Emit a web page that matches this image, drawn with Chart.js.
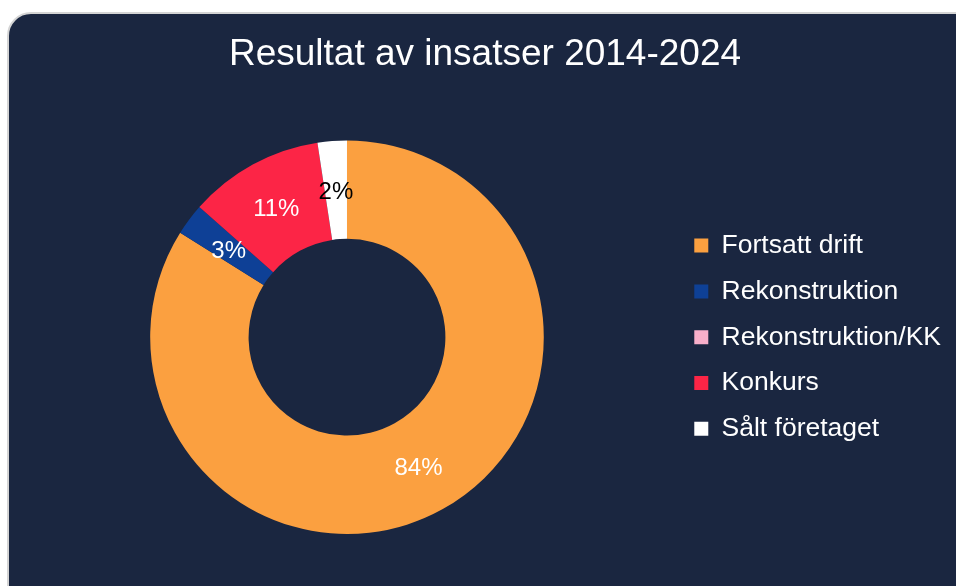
<!DOCTYPE html>
<html>
<head>
<meta charset="utf-8">
<script src="https://cdn.jsdelivr.net/npm/chart.js@4"></script>
<style>
  html, body { margin: 0; padding: 0; background: #ffffff; width: 956px; height: 586px; overflow: hidden; }
  #frame {
    position: absolute; left: 7px; top: 12px; width: 990px; height: 640px;
    background: #1a2640; border: 2px solid #d4d4d4; border-radius: 24px; box-sizing: border-box;
  }
  #wrap { position: absolute; left: 0; top: 0; width: 956px; height: 586px; }
</style>
</head>
<body>
<div id="frame"></div>
<div id="wrap"><canvas id="donut" width="956" height="586"></canvas></div>
<script>
const categories = ["Fortsatt drift", "Rekonstruktion", "Rekonstruktion/KK", "Konkurs", "Sålt företaget"];
const shares = [83.9, 2.6, 0, 11.1, 2.4];
const sliceColors = ["#fba040", "#0e4096", "#f8afca", "#fc2546", "#ffffff"];
const labelColors = ["#ffffff", "#ffffff", "#ffffff", "#ffffff", "#000000"];
const titleText = "Resultat av insatser 2014-2024";

const fontFamily = "'Liberation Sans', Arial, sans-serif";

// draws the percentage in the middle of each slice
const sliceLabels = {
  id: "sliceLabels",
  afterDatasetsDraw(chart) {
    const { ctx } = chart;
    const meta = chart.getDatasetMeta(0);
    ctx.save();
    ctx.font = "24px " + fontFamily;
    ctx.textAlign = "center";
    ctx.textBaseline = "middle";
    meta.data.forEach((arc, i) => {
      const value = shares[i];
      if (!value) return;
      const pos = arc.tooltipPosition();
      ctx.fillStyle = labelColors[i];
      ctx.fillText(Math.round(value) + "%", pos.x, pos.y + 2);
    });
    ctx.restore();
  },
};

new Chart(document.getElementById("donut"), {
  type: "doughnut",
  data: {
    labels: categories,
    datasets: [
      {
        data: shares,
        backgroundColor: sliceColors,
        borderWidth: 0,
      },
    ],
  },
  options: {
    responsive: false,
    animation: false,
    devicePixelRatio: 1,
    cutout: "50%",
    layout: { padding: { top: 12, left: 19, right: 5, bottom: 52 } },
    plugins: {
      title: {
        display: true,
        text: titleText,
        color: "#ffffff",
        font: { family: fontFamily, size: 37, weight: "normal" },
        padding: { top: 21, bottom: 63 },
      },
      legend: {
        position: "right",
        fullSize: false,
        labels: {
          color: "#ffffff",
          font: { family: fontFamily, size: 26.5 },
          boxWidth: 14,
          boxHeight: 14,
          padding: 19.3,
        },
      },
      tooltip: { enabled: false },
    },
  },
  plugins: [sliceLabels],
});
</script>
</body>
</html>
